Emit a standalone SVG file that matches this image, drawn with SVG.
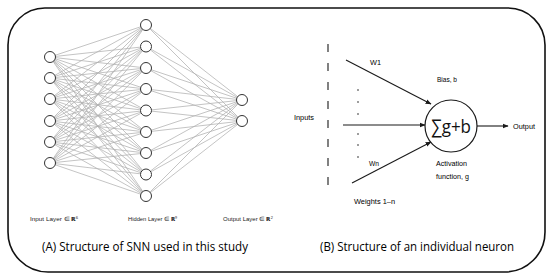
<svg xmlns="http://www.w3.org/2000/svg" width="550" height="280" viewBox="0 0 550 280">
<style>
.frame{fill:#fff;stroke:#111;stroke-width:1.6}
.conn{fill:none;stroke:#b0b0b0;stroke-width:0.75}
.node{fill:#fff;stroke:#333;stroke-width:1}
.lbl{font-family:"Liberation Sans",Arial,sans-serif;font-size:5.5px;fill:#222}
.cap{font-family:"Open Sans","Noto Sans",sans-serif;font-size:12.5px;fill:#000}
.nt{font-family:"Liberation Sans",Arial,sans-serif;font-size:8px;fill:#000}
.edge{fill:none;stroke:#1a1a1a;stroke-width:1.1}
</style>
<defs>
<marker id="ah" viewBox="0 0 10 10" refX="9" refY="5" markerWidth="6" markerHeight="6" orient="auto" markerUnits="userSpaceOnUse">
<path d="M0 1L10 5L0 9z" fill="#1a1a1a"/>
</marker>
</defs>
<path id="frame" class="frame" d="M46 8H508A37 37 0 0 1 545 45V232A40 40 0 0 1 505 272H48A40 40 0 0 1 8 232V45A37 37 0 0 1 46 8Z"/>
<g id="connectors">
<path class="conn" d="M50 57L146 25M50 57L146 46.5M50 57L146 68M50 57L146 89M50 57L146 110.5M50 57L146 132M50 57L146 153M50 57L146 174.5M50 57L146 196"/>
<path class="conn" d="M50 78L146 25M50 78L146 46.5M50 78L146 68M50 78L146 89M50 78L146 110.5M50 78L146 132M50 78L146 153M50 78L146 174.5M50 78L146 196"/>
<path class="conn" d="M50 99L146 25M50 99L146 46.5M50 99L146 68M50 99L146 89M50 99L146 110.5M50 99L146 132M50 99L146 153M50 99L146 174.5M50 99L146 196"/>
<path class="conn" d="M50 121L146 25M50 121L146 46.5M50 121L146 68M50 121L146 89M50 121L146 110.5M50 121L146 132M50 121L146 153M50 121L146 174.5M50 121L146 196"/>
<path class="conn" d="M50 142L146 25M50 142L146 46.5M50 142L146 68M50 142L146 89M50 142L146 110.5M50 142L146 132M50 142L146 153M50 142L146 174.5M50 142L146 196"/>
<path class="conn" d="M50 163L146 25M50 163L146 46.5M50 163L146 68M50 163L146 89M50 163L146 110.5M50 163L146 132M50 163L146 153M50 163L146 174.5M50 163L146 196"/>
<path class="conn" d="M146 25L242 100M146 25L242 121M146 46.5L242 100M146 46.5L242 121M146 68L242 100M146 68L242 121M146 89L242 100M146 89L242 121M146 110.5L242 100M146 110.5L242 121M146 132L242 100M146 132L242 121M146 153L242 100M146 153L242 121M146 174.5L242 100M146 174.5L242 121M146 196L242 100M146 196L242 121"/>
<line class="edge" x1="328" y1="44" x2="328" y2="192" stroke-dasharray="8 11" stroke="#555" stroke-width="1.2"/>
<line class="edge" x1="346" y1="60" x2="431" y2="104" marker-end="url(#ah)"/>
<line class="edge" x1="343" y1="125" x2="425" y2="125" marker-end="url(#ah)"/>
<line class="edge" x1="352" y1="183" x2="431" y2="142" marker-end="url(#ah)"/>
<line class="edge" x1="477" y1="126" x2="508" y2="126" marker-end="url(#ah)"/>
</g>
<g id="input-layer">
<circle class="node" cx="50" cy="57" r="5.5"/>
<circle class="node" cx="50" cy="78" r="5.5"/>
<circle class="node" cx="50" cy="99" r="5.5"/>
<circle class="node" cx="50" cy="121" r="5.5"/>
<circle class="node" cx="50" cy="142" r="5.5"/>
<circle class="node" cx="50" cy="163" r="5.5"/>
<text class="lbl" x="30" y="221" textLength="48" lengthAdjust="spacingAndGlyphs">Input Layer ∈ <tspan font-weight="bold">ℝ</tspan><tspan font-size="3.5" dy="-2">6</tspan></text>
</g>
<g id="hidden-layer">
<circle class="node" cx="146" cy="25" r="5.5"/>
<circle class="node" cx="146" cy="46.5" r="5.5"/>
<circle class="node" cx="146" cy="68" r="5.5"/>
<circle class="node" cx="146" cy="89" r="5.5"/>
<circle class="node" cx="146" cy="110.5" r="5.5"/>
<circle class="node" cx="146" cy="132" r="5.5"/>
<circle class="node" cx="146" cy="153" r="5.5"/>
<circle class="node" cx="146" cy="174.5" r="5.5"/>
<circle class="node" cx="146" cy="196" r="5.5"/>
<text class="lbl" x="128" y="221" textLength="49" lengthAdjust="spacingAndGlyphs">Hidden Layer ∈ <tspan font-weight="bold">ℝ</tspan><tspan font-size="3.5" dy="-2">9</tspan></text>
</g>
<g id="output-layer">
<circle class="node" cx="242" cy="100" r="5.5"/>
<circle class="node" cx="242" cy="121" r="5.5"/>
<text class="lbl" x="223" y="221" textLength="50" lengthAdjust="spacingAndGlyphs">Output Layer ∈ <tspan font-weight="bold">ℝ</tspan><tspan font-size="3.5" dy="-2">2</tspan></text>
</g>
<g id="caption-a">
<text class="cap" x="42" y="251" textLength="206" lengthAdjust="spacingAndGlyphs">(A) Structure of SNN used in this study</text>
</g>
<g id="inputs">
<text class="nt" x="294" y="120" textLength="20" lengthAdjust="spacingAndGlyphs">Inputs</text>
<g fill="#222">
<circle cx="358" cy="90" r="0.8"/><circle cx="358" cy="102" r="0.8"/><circle cx="358" cy="114" r="0.8"/>
<circle cx="358" cy="134" r="0.8"/><circle cx="358" cy="145" r="0.8"/><circle cx="358" cy="157" r="0.8"/>
</g>
<text class="nt" x="370" y="65" textLength="11" lengthAdjust="spacingAndGlyphs">W1</text>
<text class="nt" x="369" y="166" textLength="10" lengthAdjust="spacingAndGlyphs">Wn</text>
<text class="nt" x="354" y="204" textLength="41" lengthAdjust="spacingAndGlyphs">Weights 1–n</text>
</g>
<g id="neuron">
<circle cx="451" cy="126" r="26" fill="#fff" stroke="#1a1a1a" stroke-width="1.2"/>
<text x="451" y="133" text-anchor="middle" font-family="'Open Sans','Noto Sans',sans-serif" font-size="19" fill="#111" textLength="40" lengthAdjust="spacingAndGlyphs">∑g+b</text>
<text class="nt" x="437" y="82" textLength="20" lengthAdjust="spacingAndGlyphs">Bias, b</text>
<text class="nt" x="436" y="166" textLength="31" lengthAdjust="spacingAndGlyphs">Activation</text>
<text class="nt" x="436" y="179" textLength="33" lengthAdjust="spacingAndGlyphs">function, g</text>
</g>
<g id="output">
<text class="nt" x="513" y="129" textLength="22" lengthAdjust="spacingAndGlyphs">Output</text>
</g>
<g id="caption-b">
<text class="cap" x="320" y="251" textLength="194" lengthAdjust="spacingAndGlyphs">(B) Structure of an individual neuron</text>
</g>
</svg>
